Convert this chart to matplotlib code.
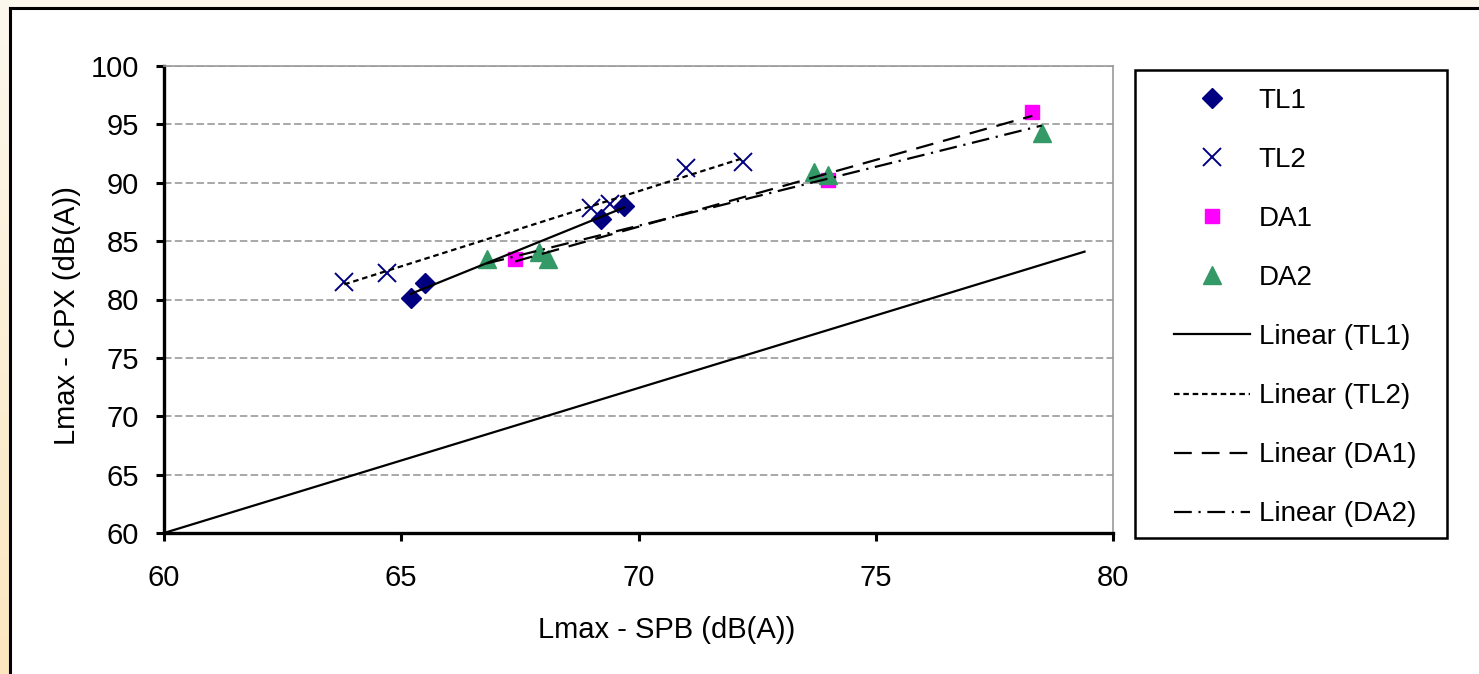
import numpy as np
import matplotlib
matplotlib.use("Agg")
import matplotlib.pyplot as plt
from matplotlib.lines import Line2D
from matplotlib.patches import Rectangle

plt.rcParams['font.family'] = ['Liberation Sans', 'DejaVu Sans']

# ---- data ----
tl1_x = [65.2, 65.5, 69.2, 69.7]
tl1_y = [80.1, 81.4, 86.9, 88.0]
tl2_x = [63.8, 64.7, 69.0, 69.4, 71.0, 72.2]
tl2_y = [81.5, 82.3, 87.8, 88.2, 91.3, 91.8]
da1_x = [67.4, 74.0, 78.3]
da1_y = [83.5, 90.2, 96.1]
da2_x = [66.8, 67.9, 68.1, 73.7, 74.0, 78.5]
da2_y = [83.5, 84.1, 83.5, 90.9, 90.7, 94.3]
ref_x = [60.0, 79.4]
ref_y = [60.0, 84.1]

x_ticks = [60, 65, 70, 75, 80]
y_ticks = [60, 65, 70, 75, 80, 85, 90, 95, 100]

W, H = 1479, 674
fig = plt.figure(figsize=(W / 100, H / 100), dpi=100)
fig.patch.set_facecolor('white')

# background strips (top & left) with gradient
fig.add_artist(Rectangle((0, 1 - 8 / H), 1, 8 / H, transform=fig.transFigure,
                         facecolor='#fdf8ee', edgecolor='none', zorder=-2))
bg_left = fig.add_axes([0, 0, 10 / W, 1])
bg_left.set_axis_off()
grad = np.linspace(0, 1, 256).reshape(-1, 1)
bg_left.imshow(grad, cmap=matplotlib.colors.LinearSegmentedColormap.from_list('g', ['#fdf8ee', '#fbe6bf']),
               aspect='auto', extent=[0, 1, 0, 1], origin='upper')
# outer frame lines
fig.add_artist(Line2D([10 / W, 1], [1 - 8 / H, 1 - 8 / H], transform=fig.transFigure, color='black', lw=2.2))
fig.add_artist(Line2D([10 / W, 10 / W], [0, 1 - 8 / H], transform=fig.transFigure, color='black', lw=2.2))

ax = fig.add_axes([164 / W, 1 - 533 / H, (1113 - 164) / W, (533 - 66) / H])
ax.set_xlim(60, 80)
ax.set_ylim(60, 100)
ax.set_xticks(x_ticks)
ax.set_yticks(y_ticks)
ax.set_xticklabels([str(v) for v in x_ticks])
ax.set_yticklabels([str(v) for v in y_ticks])
ax.tick_params(axis='both', labelsize=21, width=2.2, length=6, direction='out')
ax.tick_params(axis='y', pad=12)
ax.tick_params(axis='x', pad=16)
for s in ['left', 'bottom']:
    ax.spines[s].set_linewidth(2.4)
    ax.spines[s].set_color('black')
for s in ['top', 'right']:
    ax.spines[s].set_linewidth(1.2)
    ax.spines[s].set_color('#999999')
ax.yaxis.grid(True, color='#999999', lw=1.2, linestyle=(0, (4.5, 2)))
ax.set_axisbelow(True)

navy = '#000080'
green = '#339966'
magenta = '#ff00ff'

h1, = ax.plot(tl1_x, tl1_y, linestyle='none', marker='D', ms=10, color=navy, label='TL1', zorder=4)
h2, = ax.plot(tl2_x, tl2_y, linestyle='none', marker='x', ms=13, mew=1.4, color=navy, label='TL2', zorder=4)
h3, = ax.plot(da1_x, da1_y, linestyle='none', marker='s', ms=10.5, color=magenta, label='DA1', zorder=4)
h4, = ax.plot(da2_x, da2_y, linestyle='none', marker='^', ms=13, color=green, label='DA2', zorder=4)

def trend(xs, ys):
    c = np.polyfit(xs, ys, 1)
    xx = np.array([min(xs), max(xs)])
    return xx, np.polyval(c, xx)

lw = 1.6
styles = [
    (tl1_x, tl1_y, '-', 'Linear (TL1)'),
    (tl2_x, tl2_y, (0, (2.5, 1.7)), 'Linear (TL2)'),
    (da1_x, da1_y, (0, (8.0, 4.5)), 'Linear (DA1)'),
    (da2_x, da2_y, (0, (8.0, 3, 1, 3)), 'Linear (DA2)'),
]
lh = []
for xs, ys, ls, lab in styles:
    tx, ty = trend(xs, ys)
    l, = ax.plot(tx, ty, color='black', lw=lw, linestyle=ls, label=lab, zorder=5)
    lh.append(l)

ax.plot(ref_x, ref_y, color='black', lw=lw, zorder=3)

fig.add_artist(Rectangle((1135 / W, 1 - 538 / H), (1447 - 1135) / W, (538 - 70) / H,
                         transform=fig.transFigure, facecolor='white', edgecolor='black',
                         lw=1.8, zorder=-1))
leg = ax.legend(handles=[h1, h2, h3, h4] + lh, loc='upper left',
                bbox_to_anchor=(1174 / W, 1 - 88 / H), bbox_transform=fig.transFigure,
                borderaxespad=0, fontsize=20, frameon=False, numpoints=1,
                handlelength=2.73, handletextpad=0.32, labelspacing=1.19, borderpad=0)

fig.text(667 / W, 1 - 630 / H, 'Lmax - SPB (dB(A))', ha='center', va='center', fontsize=21)
fig.text(67 / W, 1 - 316 / H, 'Lmax - CPX (dB(A))', ha='center', va='center', fontsize=21, rotation=90)

fig.savefig('out.png', dpi=100)
